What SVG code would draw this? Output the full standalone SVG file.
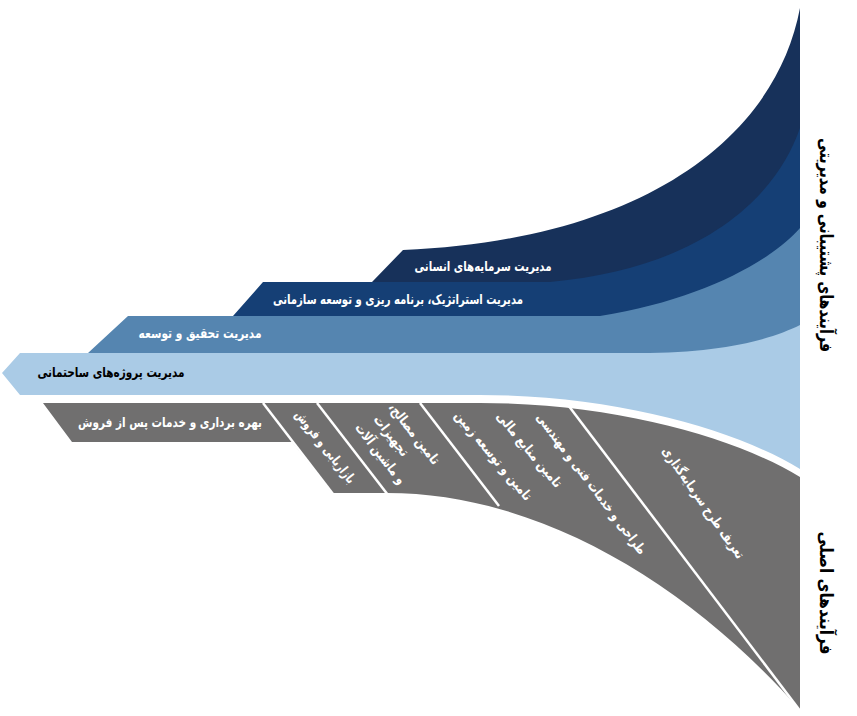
<svg xmlns="http://www.w3.org/2000/svg" width="857" height="716" viewBox="0 0 857 716">
<style>
.t{font-family:'DejaVu Sans',sans-serif;font-weight:bold;text-anchor:middle;direction:rtl;unicode-bidi:embed}
.w{fill:#ffffff;font-size:13.5px}
.k{fill:#000000;font-size:13.5px}
.big{fill:#000000;font-size:18px}
.sep{stroke:#ffffff;stroke-width:2.5;fill:none}
</style>
<rect width="857" height="716" fill="#ffffff"/>
<g id="layer-hr">
<path d="M800,8 C775,140 640,240 403,250 L372,282 L800,282 Z" fill="#17315A"/>
<text class="t w" x="483" y="271" textLength="137" lengthAdjust="spacingAndGlyphs">مدیریت سرمایه‌های انسانی</text>
</g>
<g id="layer-strategy">
<path d="M800,128 C775,200 700,268 550,282 L263,282 L233,316 L800,316 Z" fill="#153F75"/>
<text class="t w" x="398" y="304" textLength="250" lengthAdjust="spacingAndGlyphs">مدیریت استراتژیک، برنامه ریزی و توسعه سازمانی</text>
</g>
<g id="layer-rnd">
<path d="M800,228 C770,262 700,300 600,316 L128,316 L88,353 L800,353 Z" fill="#5585B0"/>
<text class="t w" x="200" y="338" textLength="123" lengthAdjust="spacingAndGlyphs">مدیریت تحقیق و توسعه</text>
</g>
<g id="layer-project">
<path d="M800,325 C770,340 720,353 640,353 L20,353 L2,373 L20,395 L480,395 C620,395 740,432 800,469 Z" fill="#AACBE6"/>
<text class="t k" x="111" y="377" textLength="147" lengthAdjust="spacingAndGlyphs">مدیریت پروژه‌های ساحتمانی</text>
</g>
<g id="main-processes">
<path d="M43,403 L480,403 C620,403 740,440 800,477 L800,710 C690,585 540,493 387,493 L332,493 L292,442 L72,442 Z" fill="#706F6F"/>
</g>
<g id="connectors">
<line class="sep" x1="263" y1="403" x2="333" y2="494"/>
<line class="sep" x1="317" y1="403" x2="388" y2="495"/>
<line class="sep" x1="420" y1="403" x2="499" y2="506"/>
<line class="sep" x1="568" y1="405" x2="801" y2="712"/>
</g>
<g id="node-operation">
<text class="t w" x="170" y="427" textLength="184" lengthAdjust="spacingAndGlyphs">بهره برداری و خدمات پس از فروش</text>
</g>
<g id="node-marketing">
<text class="t w" transform="translate(325,447) rotate(52)" y="4" textLength="89" lengthAdjust="spacingAndGlyphs">بازاریابی و فروش</text>
</g>
<g id="node-materials">
<text class="t w" transform="translate(414,434) rotate(52)" y="4" textLength="74" lengthAdjust="spacingAndGlyphs">تامین مصالح،</text>
<text class="t w" transform="translate(391,436) rotate(52)" y="4" textLength="48" lengthAdjust="spacingAndGlyphs">تجهیزات</text>
<text class="t w" transform="translate(380,454) rotate(52)" y="4" textLength="73" lengthAdjust="spacingAndGlyphs">و ماشین آلات</text>
</g>
<g id="node-land">
<text class="t w" transform="translate(493,456) rotate(50)" y="4" textLength="112" lengthAdjust="spacingAndGlyphs">تامین و توسعه زمین</text>
</g>
<g id="node-finance">
<text class="t w" transform="translate(529,450) rotate(50)" y="4" textLength="94" lengthAdjust="spacingAndGlyphs">تامین منابع مالی</text>
</g>
<g id="node-design">
<text class="t w" transform="translate(591,484) rotate(53)" y="4" textLength="173" lengthAdjust="spacingAndGlyphs">طراحی و خدمات فنی و مهندسی</text>
</g>
<g id="node-definition">
<text class="t w" transform="translate(703,503) rotate(55)" y="4" textLength="133" lengthAdjust="spacingAndGlyphs">تعریف طرح سرمایه‌گذاری</text>
</g>
<g id="label-support">
<text class="t big" transform="translate(826,245) rotate(90)" y="6" textLength="214" lengthAdjust="spacingAndGlyphs">فرآیندهای پشتیبانی و مدیریتی</text>
</g>
<g id="label-main">
<text class="t big" transform="translate(826,593) rotate(90)" y="6" textLength="123" lengthAdjust="spacingAndGlyphs">فرآیندهای اصلی</text>
</g>
</svg>
